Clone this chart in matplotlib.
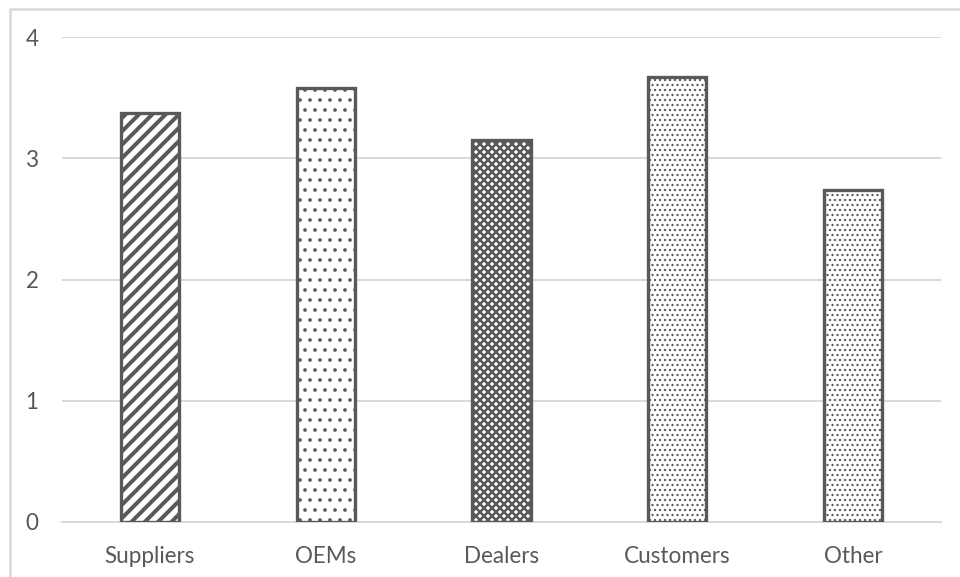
import matplotlib
matplotlib.use('Agg')
import matplotlib.pyplot as plt
from matplotlib.patches import Rectangle

# mean scores by group
groups = ['Suppliers', 'OEMs', 'Dealers', 'Customers', 'Other']
scores = [3.37, 3.58, 3.15, 3.67, 2.74]

# fill pattern and hatch line width for each bar
hatches = ['///', '..', 'xxxxx', '....', '....']
hatch_lw = [2.4, 1.0, 1.5, 0.8, 0.8]

grey = '#595959'
light = '#d9d9d9'

plt.rcParams['font.family'] = ['Lato', 'DejaVu Sans']

fig = plt.figure(figsize=(8, 577/120), dpi=120)
ax = fig.add_axes([62/960, 1-522/577, (941-62)/960, (522-37)/577])

for i, (g, v) in enumerate(zip(groups, scores)):
    plt.rcParams['hatch.linewidth'] = hatch_lw[i]
    b = ax.bar(i, v, width=0.33, color='white', edgecolor=grey, linewidth=2.0,
               hatch=hatches[i], zorder=3)[0]
    if hasattr(b, 'set_hatch_linewidth'):
        b.set_hatch_linewidth(hatch_lw[i])

ax.set_xlim(-0.5, len(groups)-0.5)
ax.set_ylim(0, 4)
ax.set_yticks([0, 1, 2, 3, 4])
ax.set_xticks(range(len(groups)))
ax.set_xticklabels(groups)
ax.yaxis.grid(True, color=light, linewidth=1.2, zorder=0)
ax.tick_params(length=0, labelsize=13.5, labelcolor=grey)
ax.tick_params(axis='y', pad=14)
ax.tick_params(axis='x', pad=14.5)
for s in ['top', 'right', 'left']:
    ax.spines[s].set_visible(False)
ax.spines['bottom'].set_color(light)
ax.spines['bottom'].set_linewidth(1.2)

# outer chart border
fig.patches.append(Rectangle((10/960, -0.1), 1.0, 1.1-9/577, transform=fig.transFigure,
                             fill=False, edgecolor=light, linewidth=1.5))

fig.savefig('out.png', dpi=120)
